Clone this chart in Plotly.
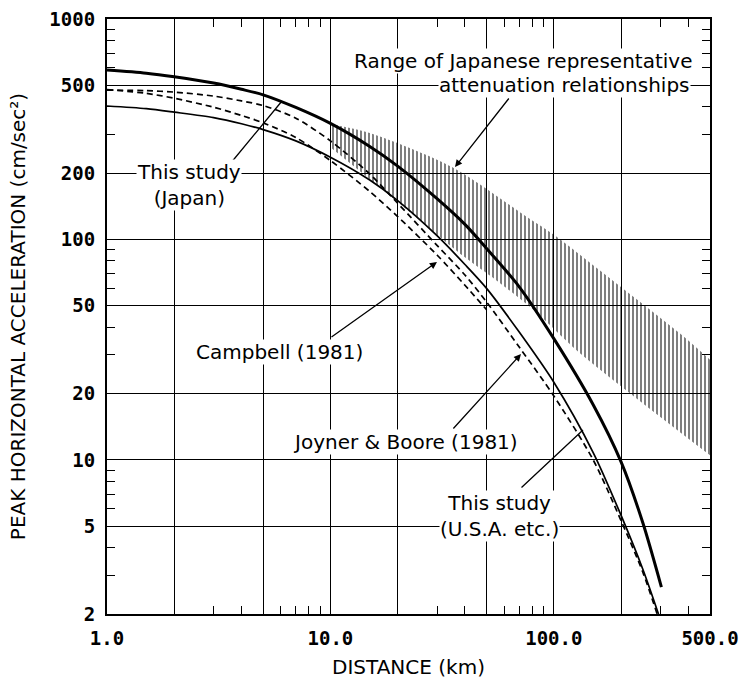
import numpy as np
import plotly.graph_objects as go

# distance (km) / peak acceleration (cm/sec2)
DIST_JAPAN = [1, 1.5, 2, 3, 4, 5, 7, 10, 15, 20, 30, 40, 50, 70, 100, 150, 200, 250, 303]
PGA_JAPAN = [587, 568, 547, 512, 480, 453, 397, 336, 264, 215, 153, 117, 91, 61, 35.5, 17.8, 9.8, 5.2, 2.65]

DIST_USA = [1, 1.5, 2, 3, 4, 5, 7, 10, 15, 20, 30, 40, 50, 70, 100, 150, 200, 250, 294]
PGA_USA = [403, 392, 378, 357, 335, 315, 280, 236, 186, 150, 104, 77, 60, 38, 22.5, 10.8, 5.6, 3.2, 2]

DIST_JB = [1, 1.5, 2, 3, 4, 5, 7, 10, 15, 20, 30, 40, 50, 70, 100, 150, 200, 250, 290]
PGA_JB = [476, 473, 466, 447, 425, 405, 355, 280, 198, 146, 94, 69, 52, 32.5, 19.5, 10, 5.3, 3.1, 2.0]

DIST_CAMPBELL = [1, 1.5, 2, 3, 4, 5, 7, 10, 15, 20, 30, 40, 50]
PGA_CAMPBELL = [478, 460, 437, 398, 365, 338, 290, 228, 165, 127, 85, 62, 48]

# range of Japanese representative relationships (hatched band)
RANGE_TOP_DIST = [10, 15, 35, 77, 100, 195, 373, 500]
RANGE_TOP_PGA = [334, 304, 213, 125, 105, 62, 37, 28.5]
RANGE_BOT_DIST = [10, 20, 40, 55, 83, 129, 500]
RANGE_BOT_PGA = [262, 148, 83, 65.5, 47, 30.9, 10.5]

X_TICKS = [1, 2, 5, 10, 20, 50, 100, 200, 500]
X_TEXT = ["1.0", "", "", "10.0", "", "", "100.0", "", "500.0"]
X_MINOR = [3, 4, 6, 7, 8, 9, 30, 40, 60, 70, 80, 90, 300, 400]
Y_TICKS = [2, 5, 10, 20, 50, 100, 200, 500, 1000]
Y_TEXT = ["2", "5", "10", "20", "50", "100", "200", "500", "1000"]
Y_MINOR = [3, 4, 6, 7, 8, 9, 30, 40, 60, 70, 80, 90, 300, 400, 600, 700, 800, 900]

FONT = "DejaVu Sans"
L, R, T, B = 107, 710, 19, 614


def paper(px, py):
    return (px - L) / (R - L), (B - py) / (B - T)


fig = go.Figure()

# hatched band
fig.add_trace(go.Scatter(x=RANGE_BOT_DIST, y=RANGE_BOT_PGA, mode="lines",
                         line=dict(width=0, shape="spline", smoothing=0.8), hoverinfo="skip"))
fig.add_trace(go.Scatter(x=RANGE_TOP_DIST, y=RANGE_TOP_PGA, mode="lines",
                         line=dict(width=0, shape="spline", smoothing=0.8), fill="tonexty",
                         fillcolor="rgba(0,0,0,0)",
                         fillpattern=dict(shape="|", fgcolor="black", bgcolor="rgba(0,0,0,0)",
                                          size=4, solidity=0.5),
                         hoverinfo="skip"))

curve_style = dict(shape="spline", smoothing=0.8, color="black")
fig.add_trace(go.Scatter(x=DIST_CAMPBELL, y=PGA_CAMPBELL, mode="lines",
                         line=dict(curve_style, width=1.7, dash="6px,4px")))
fig.add_trace(go.Scatter(x=DIST_JB, y=PGA_JB, mode="lines",
                         line=dict(curve_style, width=1.7, dash="6px,4px")))
fig.add_trace(go.Scatter(x=DIST_USA, y=PGA_USA, mode="lines",
                         line=dict(curve_style, width=1.7)))
fig.add_trace(go.Scatter(x=DIST_JAPAN, y=PGA_JAPAN, mode="lines",
                         line=dict(curve_style, width=3)))

tick_font = dict(family="DejaVu Sans Mono", size=19, color="black", weight="bold")
axis_common = dict(
    type="log", showgrid=True, gridcolor="black", gridwidth=1.3,
    showline=True, linecolor="black", linewidth=2.2, mirror="ticks",
    ticks="", tickfont=tick_font, zeroline=False, automargin=False,
)

fig.update_layout(
    width=741, height=685,
    margin=dict(l=L, r=741 - R, t=T, b=685 - B),
    paper_bgcolor="white", plot_bgcolor="white",
    showlegend=False,
    font=dict(family=FONT, size=20, color="black"),
    xaxis=dict(axis_common, range=[0, np.log10(500)], tickvals=X_TICKS, ticktext=X_TEXT,
               ticklabelstandoff=6,
               minor=dict(tickvals=X_MINOR, ticks="inside", ticklen=8, tickcolor="black",
                          tickwidth=1.2, showgrid=False),
               title=dict(text="DISTANCE (km)", standoff=12,
                          font=dict(family=FONT, size=20))),
    yaxis=dict(axis_common, range=[np.log10(2), 3], tickvals=Y_TICKS, ticktext=Y_TEXT,
               ticklabelstandoff=6,
               minor=dict(tickvals=Y_MINOR, ticks="inside", ticklen=8, tickcolor="black",
                          tickwidth=1.2, showgrid=False),
               title=dict(text="PEAK HORIZONTAL ACCELERATION (cm/sec²)", standoff=18,
                          font=dict(family=FONT, size=20))),
)

# leader lines (tip, tail, arrowhead)
leaders = [
    ((282, 101), (230, 164), 0),
    ((455, 167), (510, 97), 2),
    ((437, 262), (330, 338), 2),
    ((521, 354), (452, 430), 2),
    ((583, 430), (520, 489), 0),
]
for (tx, ty), (sx, sy), head in leaders:
    x, y = paper(tx, ty)
    fig.add_annotation(x=x, y=y, xref="paper", yref="paper", text="",
                       showarrow=True, ax=sx - tx, ay=sy - ty, arrowhead=head,
                       arrowsize=1.1, arrowwidth=1.3, arrowcolor="black", standoff=0)

labels = [
    ("attenuation relationships", 691, 85, "right"),
    ("Range of Japanese representative", 693, 61, "right"),
    ("This study<br>(Japan)", 189, 185, "center"),
    ("Campbell (1981)", 279, 352, "center"),
    ("Joyner & Boore (1981)", 405, 442, "center"),
    ("This study<br>(U.S.A. etc.)", 499, 516, "center"),
]
for text, px, py, anchor in labels:
    x, y = paper(px, py)
    fig.add_annotation(x=x, y=y, xref="paper", yref="paper", text=text,
                       showarrow=False, xanchor=anchor, yanchor="middle",
                       bgcolor="white", borderpad=0,
                       font=dict(family=FONT, size=20, color="black"))

fig.write_html(
    "out.html",
    config={"displayModeBar": False},
    post_script="document.documentElement.style.overflow='hidden';"
                "document.body.style.margin='0';document.body.style.overflow='hidden';",
)
